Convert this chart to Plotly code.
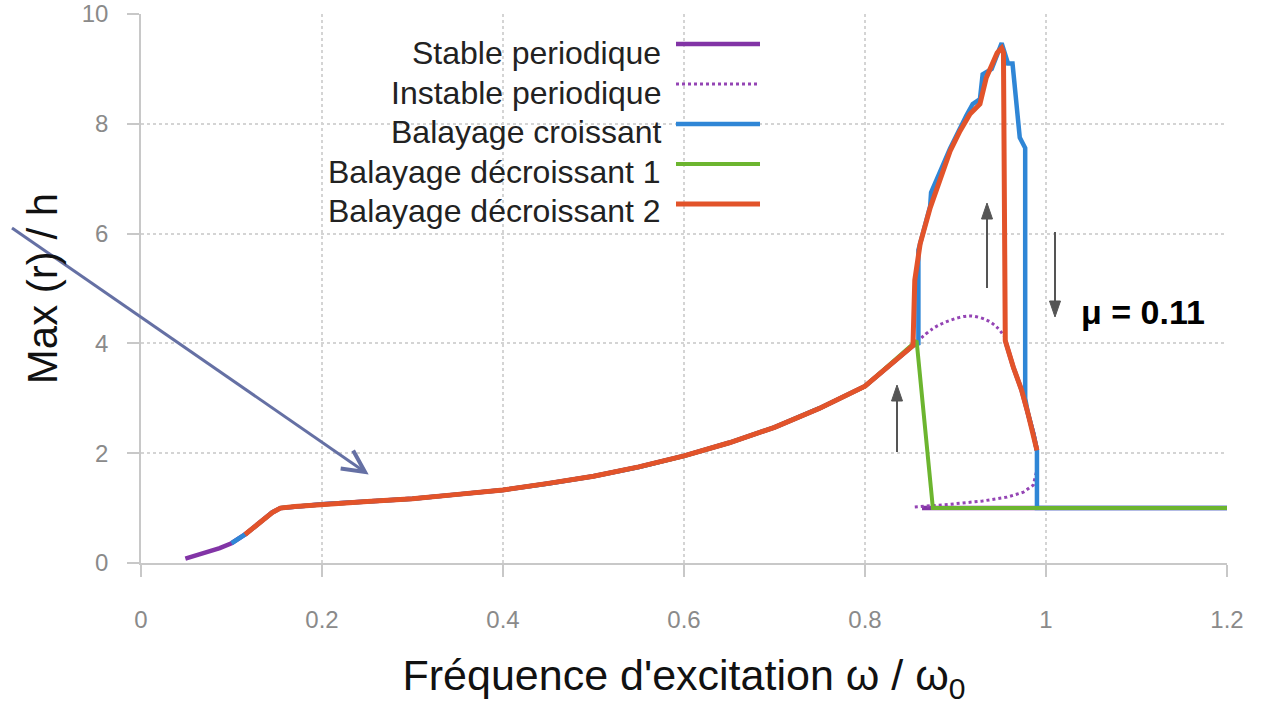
import math
import plotly.graph_objects as go

# ---------------- data ----------------
main_x = [0.049, 0.06, 0.073, 0.087, 0.10, 0.115, 0.13, 0.145, 0.154, 0.17, 0.20, 0.25, 0.30,
          0.35, 0.40, 0.45, 0.50, 0.55, 0.60, 0.65, 0.70, 0.75, 0.80, 0.853]
main_y = [0.08, 0.13, 0.20, 0.27, 0.36, 0.52, 0.72, 0.92, 1.00, 1.03, 1.07, 1.12, 1.17,
          1.25, 1.33, 1.45, 1.58, 1.75, 1.95, 2.19, 2.47, 2.82, 3.22, 3.96]

stable_low_x = [0.863, 1.2]
stable_low_y = [1.0, 1.0]
stable_mid_x = [0.955, 0.964, 0.973, 0.98, 0.986, 0.99]
stable_mid_y = [4.05, 3.56, 3.15, 2.73, 2.36, 2.05]

instable_up_x = [0.857, 0.875, 0.894, 0.916, 0.935, 0.946, 0.955]
instable_up_y = [4.02, 4.27, 4.42, 4.50, 4.42, 4.29, 4.10]
instable_low_x = [0.855, 0.894, 0.93, 0.957, 0.975, 0.986, 0.99, 0.99]
instable_low_y = [1.02, 1.07, 1.13, 1.20, 1.29, 1.42, 1.70, 2.05]

croissant_x = [0.859, 0.859, 0.872, 0.873, 0.894, 0.912, 0.919, 0.927, 0.930, 0.940, 0.951,
               0.958, 0.963, 0.971, 0.977, 0.977, 0.980, 0.986, 0.990, 0.990, 1.2]
croissant_y = [4.00, 5.70, 6.50, 6.75, 7.55, 8.15, 8.36, 8.45, 8.90, 9.00, 9.47,
               9.10, 9.10, 7.75, 7.56, 3.00, 2.73, 2.36, 2.05, 1.00, 1.00]

decr1_x = [1.2, 0.875, 0.857]
decr1_y = [1.0, 1.0, 4.05]

decr2_x = [0.990, 0.986, 0.980, 0.973, 0.964, 0.955, 0.953, 0.951, 0.946, 0.934, 0.927,
           0.916, 0.905, 0.894, 0.872, 0.861, 0.855, 0.853]
decr2_y = [2.05, 2.36, 2.73, 3.15, 3.56, 4.05, 9.30, 9.38, 9.29, 8.84, 8.36,
           8.18, 7.87, 7.50, 6.47, 5.82, 5.15, 3.96]

legend_labels = ["Stable periodique", "Instable periodique", "Balayage croissant",
                 "Balayage décroissant 1", "Balayage décroissant 2"]

x_ticks = [0, 0.2, 0.4, 0.6, 0.8, 1, 1.2]
x_tick_text = ["0", "0.2", "0.4", "0.6", "0.8", "1", "1.2"]
y_ticks = [0, 2, 4, 6, 8, 10]
y_tick_text = ["0", "2", "4", "6", "8", "10"]

x_title = "Fréquence d'excitation ω / ω<sub>0</sub>"
y_title = "Max (r) / h"
mu_label = "<b>μ = 0.11</b>"

# ---------------- styles ----------------
C_PURPLE = "#8234a6"
C_PURPLE_DOT = "#9444b4"
C_BLUE = "#2f86d6"
C_GREEN = "#6cb52f"
C_ORANGE = "#e2532a"

W, H = 1261, 705
L, R, T, B = 141, 34, 14, 142
PX0, PX1, PY_BOT, PY_TOP = L, W - R, H - B, T


def fx(px):
    return (px - PX0) / (PX1 - PX0)


def fy(py):
    return (PY_BOT - py) / (PY_BOT - PY_TOP)


fig = go.Figure()

# stable periodic (solid purple)
fig.add_trace(go.Scatter(x=main_x, y=main_y, mode="lines",
                         line=dict(color=C_PURPLE, width=4.5), showlegend=False))
fig.add_trace(go.Scatter(x=stable_low_x, y=stable_low_y, mode="lines",
                         line=dict(color=C_PURPLE, width=4.5), showlegend=False))
fig.add_trace(go.Scatter(x=stable_mid_x, y=stable_mid_y, mode="lines",
                         line=dict(color=C_PURPLE, width=4.5), showlegend=False))
# unstable periodic (dotted purple)
fig.add_trace(go.Scatter(x=instable_up_x, y=instable_up_y, mode="lines", line_shape="spline",
                         line=dict(color=C_PURPLE_DOT, width=3, dash="3px,3px"), showlegend=False))
fig.add_trace(go.Scatter(x=instable_low_x, y=instable_low_y, mode="lines",
                         line=dict(color=C_PURPLE_DOT, width=3, dash="3px,3px"), showlegend=False))
# increasing sweep (blue)
blue_x = [v for v in main_x if v >= 0.1] + croissant_x
blue_y = [main_y[i] for i, v in enumerate(main_x) if v >= 0.1] + croissant_y
fig.add_trace(go.Scatter(x=blue_x, y=blue_y, mode="lines",
                         line=dict(color=C_BLUE, width=4.5), showlegend=False))
# decreasing sweep 1 (green)
green_x = decr1_x + [v for v in reversed(main_x) if 0.154 <= v < 0.853]
green_y = decr1_y + [main_y[i] for i in reversed(range(len(main_x))) if 0.154 <= main_x[i] < 0.853]
fig.add_trace(go.Scatter(x=green_x, y=green_y, mode="lines",
                         line=dict(color=C_GREEN, width=4), showlegend=False))
# decreasing sweep 2 (orange)
orange_x = decr2_x + [v for v in reversed(main_x) if 0.104 <= v < 0.853]
orange_y = decr2_y + [main_y[i] for i in reversed(range(len(main_x))) if 0.104 <= main_x[i] < 0.853]
fig.add_trace(go.Scatter(x=orange_x, y=orange_y, mode="lines",
                         line=dict(color=C_ORANGE, width=5), showlegend=False))

# ---------------- custom legend (text left, sample right) ----------------
legend_colors = [C_PURPLE, C_PURPLE_DOT, C_BLUE, C_GREEN, C_ORANGE]
legend_dash = ["solid", "3px,3px", "solid", "solid", "solid"]
legend_width = [4.5, 3, 4.5, 4, 5]
legend_line_py = [44, 84, 124, 164, 204]
legend_text_py = [53, 93, 132, 172, 211]
shapes = []
annotations = []
for lab, col, dsh, lw, lpy, tpy in zip(legend_labels, legend_colors, legend_dash,
                                      legend_width, legend_line_py, legend_text_py):
    shapes.append(dict(type="line", xref="paper", yref="paper",
                       x0=fx(676), x1=fx(760), y0=fy(lpy), y1=fy(lpy),
                       line=dict(color=col, width=lw, dash=dsh)))
    annotations.append(dict(xref="paper", yref="paper", x=fx(663), y=fy(tpy),
                            xanchor="right", yanchor="middle", showarrow=False,
                            text=lab, font=dict(family="Liberation Sans", size=32, color="#222")))

# mu label
annotations.append(dict(xref="paper", yref="paper", x=fx(1143), y=fy(312),
                        xanchor="center", yanchor="middle", showarrow=False,
                        text=mu_label,
                        font=dict(family="Liberation Sans", size=34, color="#000")))


# arrows drawn as shapes (pixel positions converted to paper coordinates)
def arrow_shapes(tail, head, color, width, head_len, head_half, filled):
    tx, ty = tail
    hx, hy = head
    d = math.hypot(hx - tx, hy - ty)
    ux, uy = (hx - tx) / d, (hy - ty) / d
    nx, ny = -uy, ux
    bx, by = hx - ux * head_len, hy - uy * head_len
    p1 = (bx + nx * head_half, by + ny * head_half)
    p2 = (bx - nx * head_half, by - ny * head_half)
    out = []
    end = (bx + ux * 2, by + uy * 2) if filled else (hx, hy)
    out.append(dict(type="line", xref="paper", yref="paper",
                    x0=fx(tx), y0=fy(ty), x1=fx(end[0]), y1=fy(end[1]),
                    line=dict(color=color, width=width)))
    if filled:
        path = "M {} {} L {} {} L {} {} Z".format(fx(hx), fy(hy), fx(p1[0]), fy(p1[1]),
                                                  fx(p2[0]), fy(p2[1]))
        out.append(dict(type="path", xref="paper", yref="paper", path=path,
                        fillcolor=color, line=dict(color=color, width=1)))
    else:
        path = "M {} {} L {} {} L {} {}".format(fx(p1[0]), fy(p1[1]), fx(hx), fy(hy),
                                                fx(p2[0]), fy(p2[1]))
        out.append(dict(type="path", xref="paper", yref="paper", path=path,
                        line=dict(color=color, width=width + 1)))
    return out


shapes += arrow_shapes((12, 228), (365, 472), "#6570a4", 3, 22, 11, False)
shapes += arrow_shapes((897, 452), (897, 385), "#555555", 2, 16, 5.5, True)
shapes += arrow_shapes((987, 288), (987, 203), "#555555", 2, 16, 5.5, True)
shapes += arrow_shapes((1055, 232), (1055, 317), "#555555", 2, 16, 5.5, True)

axis_common = dict(showgrid=True, gridcolor="#d4d4d4", griddash="dot", gridwidth=1.5,
                   zeroline=False, showline=True, linecolor="#c8c8c8", linewidth=1.5,
                   ticks="outside", ticklen=12, tickcolor="#c8c8c8", tickwidth=1.5,
                   automargin=False,
                   tickfont=dict(family="Liberation Sans", size=24, color="#8a8a8a"))

fig.update_layout(
    width=W, height=H,
    margin=dict(l=L, r=R, t=T, b=B, pad=0, autoexpand=False),
    plot_bgcolor="white", paper_bgcolor="white",
    showlegend=False,
    xaxis=dict(range=[0, 1.2], tickvals=x_ticks, ticktext=x_tick_text,
               ticklabelstandoff=22,
               title=dict(text=x_title, standoff=33,
                          font=dict(family="Liberation Sans", size=43, color="#111")),
               **axis_common),
    yaxis=dict(range=[0, 10], tickvals=y_ticks, ticktext=y_tick_text,
               ticklabelstandoff=14,
               title=dict(text=y_title, standoff=11,
                          font=dict(family="Liberation Sans", size=42, color="#111")),
               **axis_common),
    shapes=shapes,
    annotations=annotations,
)

fig.write_html("out.html")
